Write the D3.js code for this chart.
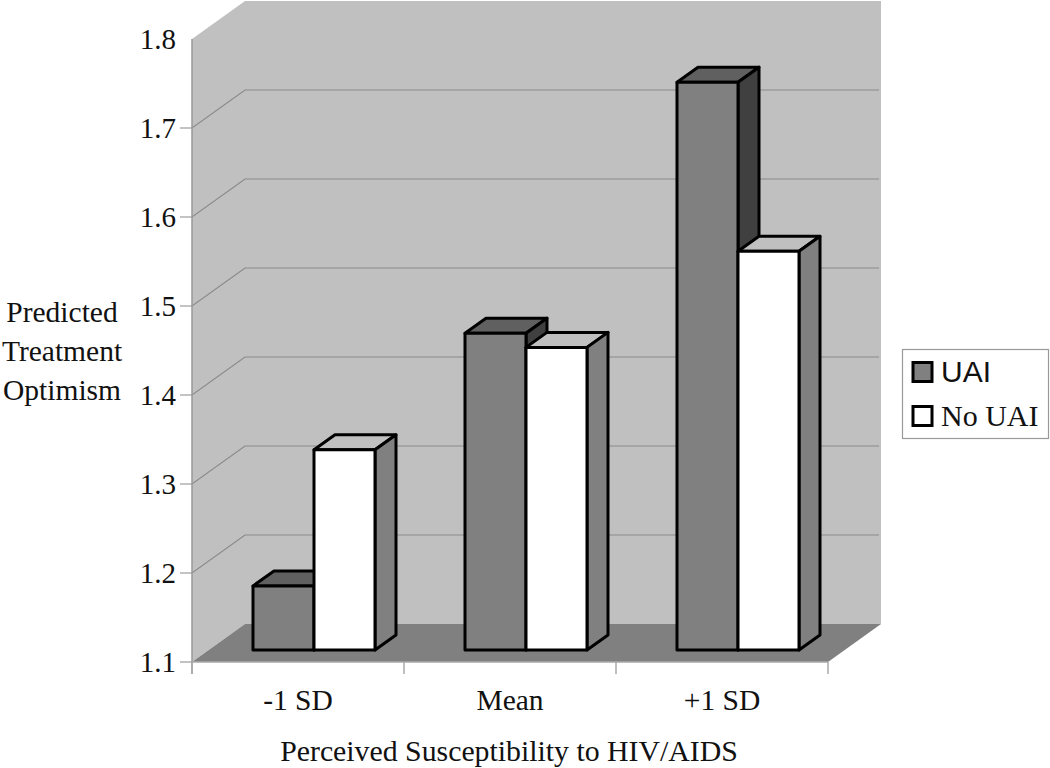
<!DOCTYPE html>
<html><head><meta charset="utf-8">
<script src="https://cdn.jsdelivr.net/npm/d3@7"></script>
<style>html,body{margin:0;padding:0;background:#fff}svg{display:block}text{font-family:"Liberation Serif",serif;fill:#111}</style>
</head><body><svg id="c" width="1050" height="768"></svg>
<script>
const categories = ["-1 SD", "Mean", "+1 SD"];
const seriesNames = ["UAI", "No UAI"];
const uai = [1.172, 1.456, 1.738];
const noUai = [1.325, 1.44, 1.548];
const yTicks = [1.1, 1.2, 1.3, 1.4, 1.5, 1.6, 1.7, 1.8];
const yTitle = ["Predicted", "Treatment", "Optimism"];
const xTitle = "Perceived Susceptibility to HIV/AIDS";

const svg = d3.select("#c");
const x = d3.scaleBand().domain(categories).range([192, 828]);
const y = d3.scaleLinear().domain([1.1, 1.8]).range([662, 39]);
const depth = {dx: 53, dy: -38};
const barDepth = {dx: 21, dy: -15};
const off = {dx: 16, dy: -12};
const pts = a => a.map(p => p.join(",")).join(" ");
const y0 = y(1.1), yT = y(1.8), xL = x.range()[0], xR = x.range()[1];

svg.append("polygon").attr("points", pts([[xL,y0],[xL,yT],[xL+depth.dx,yT+depth.dy],[xR+depth.dx,yT+depth.dy],[xR+depth.dx,y0+depth.dy],[xL+depth.dx,y0+depth.dy]])).attr("fill","#c0c0c0");
svg.append("polygon").attr("points", pts([[xL,y0],[xL+depth.dx,y0+depth.dy],[xR+depth.dx,y0+depth.dy],[xR,y0]])).attr("fill","#808080");

yTicks.slice(1,-1).forEach(t => {
  svg.append("polyline").attr("points", pts([[xL-12,y(t)],[xL,y(t)],[xL+depth.dx,y(t)+depth.dy],[xR+depth.dx-2,y(t)+depth.dy]])).attr("fill","none").attr("stroke","#8a8a8a").attr("stroke-width",1.2);
});
svg.append("line").attr("x1",xL-12).attr("x2",xL).attr("y1",y0).attr("y2",y0).attr("stroke","#999").attr("stroke-width",1.2);
svg.append("line").attr("x1",xL).attr("x2",xL).attr("y1",yT).attr("y2",y0+12).attr("stroke","#999").attr("stroke-width",1.5);
svg.append("line").attr("x1",xL).attr("x2",xR).attr("y1",y0).attr("y2",y0).attr("stroke","#aaa").attr("stroke-width",1.5);
[...categories.map(c => x(c)), xR].forEach(v => svg.append("line").attr("x1",v).attr("x2",v).attr("y1",y0).attr("y2",y0+12).attr("stroke","#aaa").attr("stroke-width",1.5));

const bw = 61;
const styles = [{front:"#808080",top:"#606060",side:"#404040"},{front:"#ffffff",top:"#c0c0c0",side:"#808080"}];
function bar(c, s, v){
  const st = styles[s];
  const cx = x(c) + x.bandwidth()/2 + off.dx;
  const l = cx + (s-1)*bw, r = l + bw;
  const b = y0 + off.dy, t = b - (y(1.1) - y(v));
  const g = svg.append("g").attr("stroke","#000").attr("stroke-width",3).attr("stroke-linejoin","round");
  g.append("polygon").attr("points",pts([[l,t],[l+barDepth.dx,t+barDepth.dy],[r+barDepth.dx,t+barDepth.dy],[r,t]])).attr("fill",st.top);
  g.append("polygon").attr("points",pts([[r,t],[r+barDepth.dx,t+barDepth.dy],[r+barDepth.dx,b+barDepth.dy],[r,b]])).attr("fill",st.side);
  g.append("rect").attr("x",l).attr("y",t).attr("width",bw).attr("height",b-t).attr("fill",st.front);
}
categories.forEach((c,i) => { bar(c,0,uai[i]); bar(c,1,noUai[i]); });

yTicks.forEach(t => svg.append("text").attr("x",176).attr("y",y(t)+10).attr("text-anchor","end").style("font-size","29px").text(t.toFixed(1)));
categories.forEach(c => svg.append("text").attr("x",x(c)+x.bandwidth()/2).attr("y",710).attr("text-anchor","middle").style("font-size","29.5px").text(c));
svg.append("text").attr("x",509).attr("y",761).attr("text-anchor","middle").style("font-size","29.8px").text(xTitle);
yTitle.forEach((l,i) => svg.append("text").attr("x",62).attr("y",322+i*39).attr("text-anchor","middle").style("font-size","29.5px").text(l));

svg.append("rect").attr("x",902.5).attr("y",349.5).attr("width",146).attr("height",89).attr("fill","#fff").attr("stroke","#999").attr("stroke-width",1.2);
seriesNames.forEach((n,i) => {
  const yy = [372,416][i];
  svg.append("rect").attr("x",913).attr("y",yy-9.5).attr("width",19).attr("height",19).attr("fill",styles[i].front).attr("stroke","#000").attr("stroke-width",3);
  svg.append("text").attr("x",941).attr("y",yy+10).style("font-size","30px").style("font-family",i===0?'"Liberation Sans",sans-serif':'"Liberation Serif",serif').text(n);
});
</script></body></html>
